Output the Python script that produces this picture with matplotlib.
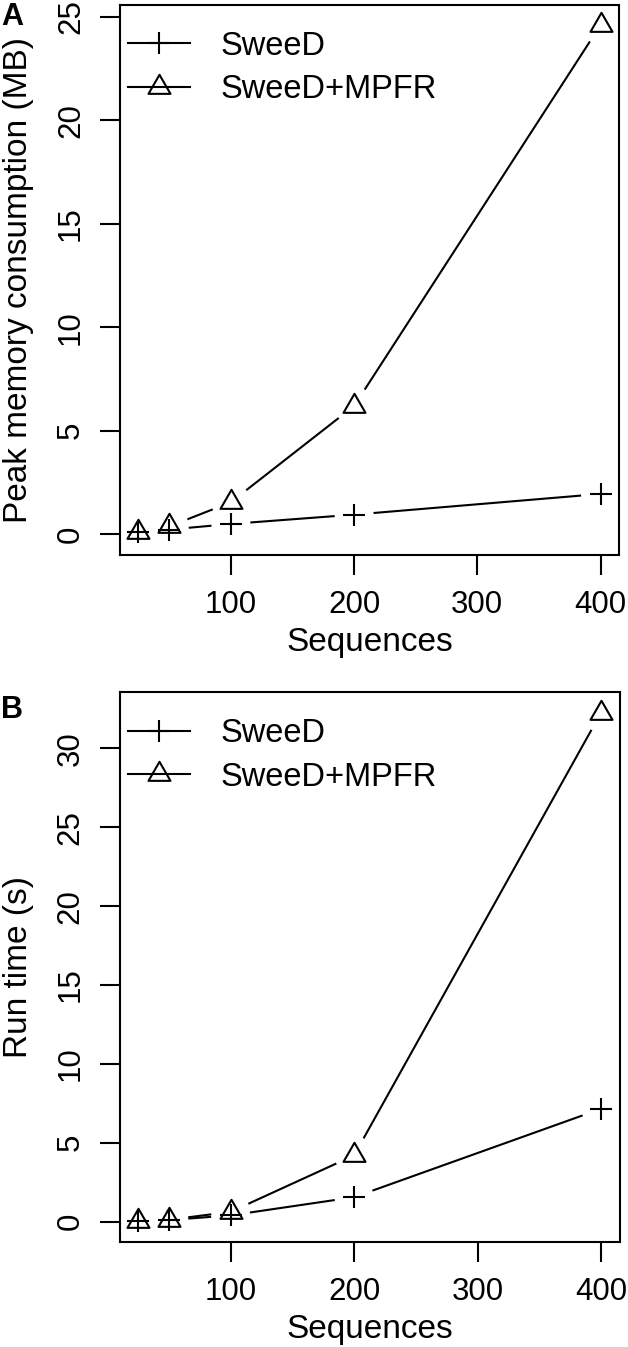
import numpy as np
import matplotlib
matplotlib.use("Agg")
import matplotlib.pyplot as plt
from matplotlib.path import Path
from matplotlib.lines import Line2D

plt.rcParams['font.family'] = ['Liberation Sans', 'DejaVu Sans']

# ---- data ----
sequences = [25, 50, 100, 200, 400]
mem_sweed = [0.1, 0.23, 0.5, 0.95, 1.95]
mem_mpfr = [0.12, 0.38, 1.55, 6.2, 24.6]
time_sweed = [0.05, 0.1, 0.4, 1.55, 7.15]
time_mpfr = [0.07, 0.12, 0.62, 4.2, 32.25]
series_labels = ["SweeD", "SweeD+MPFR"]
xticks = [100, 200, 300, 400]
yticks_mem = [0, 5, 10, 15, 20, 25]
yticks_time = [0, 5, 10, 15, 20, 25, 30]

W, H = 628, 1347
fig = plt.figure(figsize=(W / 100, H / 100), dpi=100)

tri = Path([(0, 1.555), (-1.347, -0.777), (1.347, -0.777), (0, 1.555)],
           [Path.MOVETO, Path.LINETO, Path.LINETO, Path.CLOSEPOLY])

FS = 22.5
LW = 1.5
GAP = 19.5  # px gap around points (R type="b")


def px_axes(left, right, top, bottom):
    return fig.add_axes([left / W, (H - bottom) / H, (right - left) / W, (bottom - top) / H])


def gapped_line(ax, x, y):
    pts = ax.transData.transform(np.column_stack([x, y]))
    inv = ax.transData.inverted()
    for i in range(len(pts) - 1):
        p0, p1 = pts[i], pts[i + 1]
        d = p1 - p0
        L = np.hypot(*d)
        if L <= 2 * GAP:
            continue
        u = d / L
        seg = inv.transform(np.vstack([p0 + u * GAP, p1 - u * GAP]))
        ax.plot(seg[:, 0], seg[:, 1], color='black', lw=LW, solid_capstyle='butt', zorder=2)


def panel(ax, y1, y2, ylim, yticks, ylabel, letter, letter_y):
    ax.set_xlim(10, 415)
    ax.set_ylim(*ylim)
    gapped_line(ax, sequences, y1)
    gapped_line(ax, sequences, y2)
    ax.plot(sequences, y1, linestyle='none', marker='+', ms=16.5, mew=LW, color='black', zorder=3)
    ax.plot(sequences, y2, linestyle='none', marker=tri, ms=18.3, mew=LW, mfc='none',
            mec='black', zorder=3)
    ax.set_xticks(xticks)
    ax.set_yticks(yticks)
    ax.set_yticklabels([str(t) for t in yticks], rotation=90, va='center')
    ax.tick_params(direction='out', length=14.4, width=LW, labelsize=FS)
    ax.tick_params(axis='x', pad=11)
    ax.tick_params(axis='y', pad=10)
    for s in ax.spines.values():
        s.set_linewidth(LW)
        s.set_zorder(4)
    ax.set_xlabel("Sequences", fontsize=24, labelpad=5)
    ax.set_ylabel(ylabel, fontsize=24)
    ax.yaxis.label.set_va('center')
    handles = [Line2D([], [], color='black', lw=LW, marker='+', ms=16.5, mew=LW),
               Line2D([], [], color='black', lw=LW, marker=tri, ms=18.3, mew=LW, mfc='none')]
    ax.legend(handles, series_labels, loc='upper left', bbox_to_anchor=(0.016, 0.953),
              frameon=False, fontsize=23.5, handlelength=1.9, handletextpad=0.95,
              labelspacing=0.38, borderpad=0, borderaxespad=0)
    fig.text(12 / W, 1 - letter_y / H, letter, fontsize=22, fontweight='bold',
             ha='center', va='center')


axA = px_axes(120, 619, 5, 555)
panel(axA, mem_sweed, mem_mpfr, (-1.0, 25.57), yticks_mem,
      "Peak memory consumption (MB)", "A", 17)

axB = px_axes(119.5, 619.5, 692.3, 1241.7)
panel(axB, time_sweed, time_mpfr, (-1.27, 33.55), yticks_time,
      "Run time (s)", "B", 710)

for ax in (axA, axB):
    bb = ax.get_position()
    ax.yaxis.set_label_coords(19 / W, bb.y0 + bb.height / 2, transform=fig.transFigure)

fig.savefig("out.png", dpi=100)
